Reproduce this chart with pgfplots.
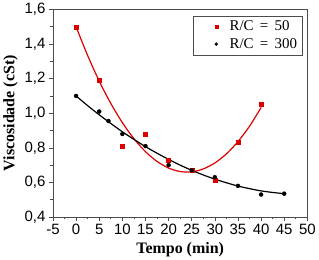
\documentclass[border=0pt]{standalone}
\usepackage{pgfplots}
\pgfplotsset{compat=1.18}
\usepackage{fontspec}
\setmainfont{Liberation Serif}
\newfontfamily\arial{Liberation Sans}
\definecolor{myred}{RGB}{220,0,0}
\begin{document}
\begin{tikzpicture}
\begin{axis}[
  scale only axis, width=255pt, height=208pt,
  xmin=-5, xmax=50, ymin=0.4, ymax=1.6,
  xtick={-5,0,...,50}, ytick={0.4,0.6,...,1.6},
  minor x tick num=1, minor y tick num=1,
  tick align=outside, axis x line*=bottom, axis y line*=left,
  tick style={black!70, line width=0.6pt},
  major tick length=4pt, minor tick length=2.5pt,
  axis line style={black!70, line width=0.8pt},
  ticklabel style={font=\arial\fontsize{15}{17}\selectfont},
  /pgf/number format/assume math mode=true,
  /pgf/number format/use comma, /pgf/number format/fixed,
  /pgf/number format/precision=1, /pgf/number format/fixed zerofill,
  xticklabel style={/pgf/number format/precision=0,/pgf/number format/fixed zerofill=false},
  xlabel={\bfseries Tempo (min)}, ylabel={\bfseries Viscosidade (cSt)},
  label style={font=\fontsize{16}{18}\selectfont},
  legend style={at={(0.98,0.97)}, anchor=north east, draw=black!70, font=\fontsize{15}{17}\selectfont, inner xsep=3pt, inner ysep=3pt, row sep=2pt},
  legend image code/.code={\path[draw=none,fill=none] (0cm,0cm) -- (1.1cm,0cm); \path[#1, draw=none] plot[mark size=1.5pt] coordinates {(0.7cm,0cm)};},
  legend cell align=left,
  clip=false,
]
\draw[black!70, line width=0.8pt] (rel axis cs:0,1) -- (rel axis cs:1,1) -- (rel axis cs:1,0);
\addplot[only marks, mark=square*, mark size=2pt, color=myred] coordinates {
(0,1.50) (5,1.19) (10,0.81) (15,0.88) (20,0.727) (25,0.67) (30,0.615) (35,0.83) (40,1.05)};
\addlegendentry{R/C \,=\, 50}
\addplot[only marks, mark=*, mark size=2pt, color=black] coordinates {
(0,1.10) (5,1.01) (7,0.955) (10,0.88) (15,0.81) (20,0.70) (25,0.67) (30,0.63) (35,0.58) (40,0.53) (45,0.535)};
\addlegendentry{R/C \,=\, 300}
\addplot[forget plot, color=myred, line width=1.2pt, smooth] coordinates {
(0,1.5) (2.5,1.334) (5,1.186) (7.5,1.057) (10,0.946) (12.5,0.853) (15,0.778) (17.5,0.7215) (20,0.683) (22.5,0.663) (25,0.661) (27.5,0.678) (30,0.7125) (32.5,0.765) (35,0.836) (37.5,0.925) (40,1.033)};
\addplot[forget plot, color=black, line width=1.2pt, smooth] coordinates {
(0,1.1) (2.5,1.044) (5,0.991) (7.5,0.941) (10,0.893) (12.5,0.849) (15,0.807) (17.5,0.769) (20,0.733) (22.5,0.700) (25,0.67) (27.5,0.643) (30,0.619) (32.5,0.598) (35,0.579) (37.5,0.564) (40,0.551) (42.5,0.542) (45,0.5348)};
\end{axis}
\end{tikzpicture}
\end{document}
